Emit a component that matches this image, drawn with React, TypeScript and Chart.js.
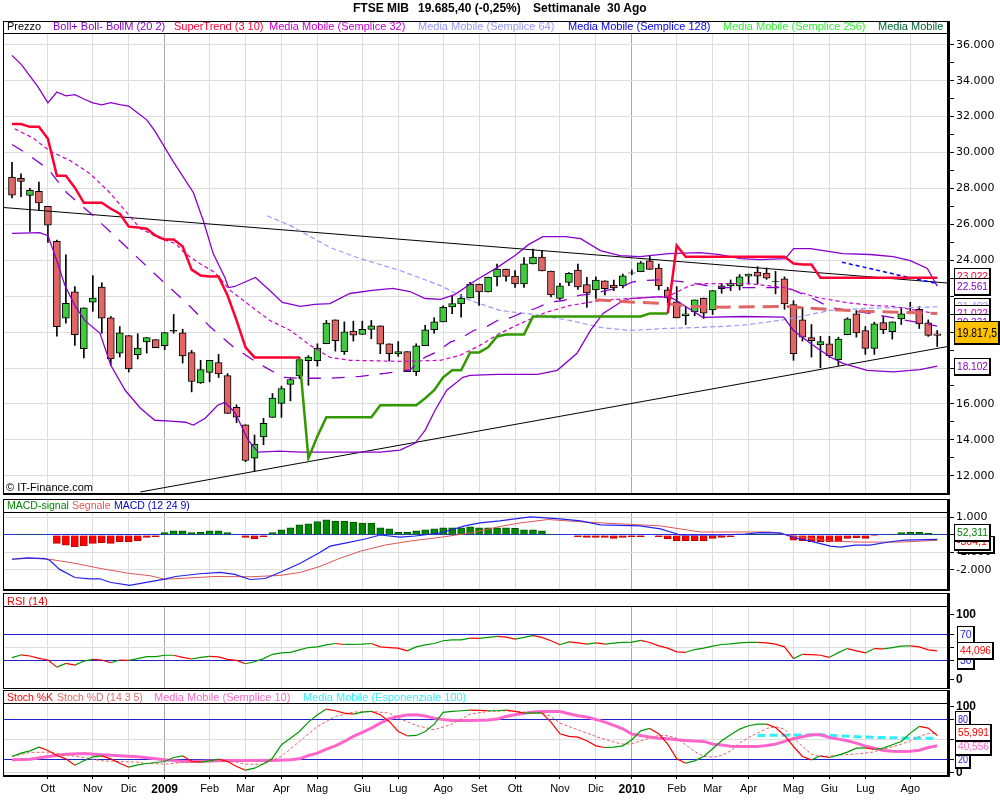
import React, { useEffect, useRef } from "react";
import { Chart, registerables } from "chart.js";

Chart.register(...registerables);

// ---------------- DATA ----------------
const monthTickIdx = [4, 9, 13, 17, 22, 26, 30, 34, 39, 43, 48, 52, 56, 61, 65, 69, 74, 78, 82, 87, 91, 95, 100];
const monthTickLabels = ["Ott", "Nov", "Dic", "2009", "Feb", "Mar", "Apr", "Mag", "Giu", "Lug", "Ago", "Set", "Ott", "Nov", "Dic", "2010", "Feb", "Mar", "Apr", "Mag", "Giu", "Lug", "Ago"];
const yearTickIdx = [17, 69];

const priceTicks = [12000, 13000, 14000, 15000, 16000, 17000, 18000, 19000, 20000, 21000, 22000, 23000, 24000, 25000, 26000, 27000, 28000, 29000, 30000, 31000, 32000, 33000, 34000, 35000, 36000];
const priceTicksHiddenByBoxes = [18000, 20000, 22000];
const macdTicks = [-2000, -1000, 0, 1000];
const rsiTicks = [0, 30, 50, 70, 100];
const stochTicks = [0, 20, 50, 80, 100];

const candleOpen = [
  28630, 28560, 27610, 27840, 27000, 25060, 20770, 22240, 19080, 21660,
  22510, 20800, 18830, 19800, 18740, 19460, 19580, 19240, 20100, 19960,
  18860, 17170, 17750, 18300, 17580, 15810, 14840, 12980, 14160, 15250,
  16030, 17080, 17560, 18410, 18410, 19350, 20680, 18910, 20050, 19870,
  20150, 20350, 19350, 18780, 18910, 17800, 19240, 20130, 20570, 21400,
  21570, 21900, 22680, 22240, 23070, 23510, 23120, 22680, 23790, 24180,
  23400, 21880, 22770, 23460, 22640, 22350, 22850, 22620, 22590, 23300,
  23360, 23970, 23570, 22350, 21680, 20920, 21130, 21900, 21240, 22420,
  22570, 22570, 23120, 23340, 23290, 22820, 22960, 21530, 20680, 19690,
  19280, 19350, 18470, 19850, 21020, 20090, 19090, 20530, 20020, 20740,
  21110, 21270, 20520, 19910,
];
const candleHigh = [
  29460, 28810, 28000, 28350, 27000, 25120, 24300, 22530, 21350, 23140,
  22750, 20870, 20310, 19800, 19910, 19690, 19580, 19980, 20980, 20160,
  18980, 18430, 18430, 18760, 17690, 15950, 14840, 14270, 15200, 16580,
  16990, 17450, 18610, 18690, 19350, 20650, 20680, 20570, 20610, 20610,
  20650, 20350, 19350, 19470, 18910, 19350, 20380, 20800, 21460, 22020,
  22090, 22770, 22680, 23070, 23790, 23510, 23420, 24150, 24620, 24530,
  23400, 22710, 23320, 23790, 23050, 23080, 22850, 22900, 23230, 23460,
  23930, 24250, 23790, 22490, 22530, 21380, 21790, 21900, 22310, 22710,
  22900, 23200, 23230, 23640, 23570, 23380, 23080, 21750, 21380, 20420,
  19760, 19760, 19720, 20800, 21200, 20310, 20550, 20870, 20570, 21350,
  21660, 21420, 20680, 20090,
];
const candleLow = [
  27470, 27540, 25600, 26780, 24990, 19780, 20500, 19260, 18560, 21160,
  19940, 18150, 18610, 17780, 18500, 18830, 19130, 19020, 19940, 18280,
  16670, 17140, 17230, 17470, 15470, 14950, 12790, 12240, 13730, 15250,
  15250, 16170, 17410, 17040, 18110, 19350, 18940, 18760, 19500, 19870,
  19630, 18800, 18390, 18650, 17800, 17580, 19240, 19940, 20570, 21020,
  20830, 21900, 21490, 22240, 22570, 22830, 22490, 22490, 23790, 23400,
  21960, 21810, 22590, 22380, 21380, 21830, 22070, 22310, 22460, 23200,
  23360, 23490, 22350, 21640, 20790, 20420, 20910, 20760, 20980, 22160,
  22310, 22350, 22680, 22680, 22940, 22130, 21270, 18430, 19500, 18610,
  18020, 18580, 18150, 19850, 19720, 18760, 18760, 19910, 19610, 20420,
  21020, 20200, 19760, 19200,
];
const candleClose = [
  27630, 28390, 27890, 27190, 25950, 20300, 21600, 19850, 21350, 21900,
  20770, 18500, 19960, 17950, 19110, 19690, 19130, 19980, 20050, 18680,
  17250, 17910, 18430, 17670, 15470, 15260, 12850, 13760, 14920, 16320,
  16860, 17360, 18470, 18610, 19110, 20500, 19520, 20020, 19830, 20150,
  20350, 19330, 18800, 18910, 17800, 19240, 20130, 20570, 21380, 21590,
  21900, 22680, 22240, 23070, 23510, 23100, 22680, 23800, 24180, 23400,
  22070, 22570, 23270, 22510, 22180, 22900, 22420, 22460, 23140, 23280,
  23860, 23490, 22570, 21910, 20790, 21020, 21790, 21050, 22310, 22570,
  22710, 23080, 23230, 23120, 23010, 22800, 21570, 18800, 19720, 19520,
  19470, 18690, 19610, 20740, 19960, 19090, 20460, 20130, 20570, 21020,
  21100, 20460, 19820, 19817.5,
];

type Pt = [number, number];

const bollUpper: Pt[] = [[0, 35410], [1.1, 34870], [2, 34260], [2.9, 33650], [4, 32760], [5, 33370], [6, 33150], [7, 33220], [8, 32980], [9, 32760], [10, 32650], [11, 32780], [12, 32670], [13, 32590], [14, 32200], [15, 31820], [15.9, 31200], [17.9, 29540], [20.2, 27760], [21.3, 26200], [22.4, 24370], [23.7, 23040], [24.1, 22480], [24.8, 22540], [27.1, 23040], [28.7, 22320], [30.1, 21650], [32.1, 21430], [33.7, 21540], [35.4, 21590], [37.6, 22150], [40.1, 22320], [42.4, 22430], [44.3, 22260], [46, 21870], [47.7, 21820], [49.3, 22090], [51.6, 22870], [54, 23590], [56, 24260], [57.5, 24870], [59.1, 25320], [61.6, 25320], [63.3, 25200], [65.5, 24540], [67.7, 24260], [69.9, 24200], [73.1, 24370], [76.6, 24430], [78.8, 24320], [81.1, 24090], [83.3, 24040], [86.1, 24090], [87, 24650], [88.9, 24650], [92.5, 24370], [95.5, 24320], [98.1, 24200], [100, 23980], [101.9, 23540], [103, 22561]];
const bollLower: Pt[] = [[0, 25500], [3.1, 25540], [4, 25370], [4.8, 24260], [5.9, 22590], [7, 21480], [8.1, 20650], [9.8, 19930], [11, 18150], [12.6, 16760], [14.3, 15760], [15.9, 15090], [17.6, 15040], [19.3, 14980], [20.2, 14820], [21.5, 15200], [22.9, 15930], [23.7, 16090], [24.8, 15540], [26.3, 13980], [27.4, 13320], [29.8, 13370], [32.1, 13320], [35.4, 13320], [41, 13320], [43.2, 13430], [44.9, 13820], [46, 14540], [47.1, 15650], [48.4, 16760], [50.2, 17480], [51, 17590], [54, 17650], [58.5, 17650], [60.7, 17870], [62.9, 18820], [64.4, 20090], [65.8, 21040], [67.7, 21650], [68.8, 21870], [72.2, 21980], [73.6, 21870], [76.9, 20820], [81.4, 20870], [85.9, 20830], [87, 20090], [88.9, 19370], [91.1, 18610], [92.5, 18260], [95.2, 17870], [98.1, 17780], [101.1, 17910], [103, 18102]];
const bollMid: Pt[] = [[0, 30450], [1.3, 30050], [4, 29090], [6.1, 27760], [8.8, 26590], [11.5, 25320], [14.1, 24090], [16.8, 22820], [19.5, 21590], [22, 20320], [24.7, 19150], [27.4, 18260], [30.2, 17480], [32.1, 17430], [35.4, 17430], [38.8, 17540], [41.5, 17700], [44.3, 17900], [46, 18610], [47.3, 18890], [48.8, 19440], [50.1, 19690], [51.4, 20090], [52.9, 20320], [54.2, 20690], [55.5, 20800], [56.9, 21110], [58.2, 21300], [59.9, 21670], [61.4, 21760], [63.1, 22040], [64.7, 22130], [66.2, 22320], [67.7, 22470], [69, 22780], [70.1, 22870], [72.2, 22910], [73.3, 22870], [75.5, 22760], [78.5, 22480], [82.2, 22480], [86.3, 22480], [88.9, 21930], [91.1, 21370], [95.5, 21040], [103, 20331]];
const sma32: Pt[] = [[0.3, 31320], [2.3, 30820], [4.2, 30090], [6.5, 29540], [8.7, 28820], [10.9, 27760], [12.6, 26760], [14.3, 25760], [16.5, 25210], [18.2, 24930], [19.3, 24370], [20.9, 23820], [22.6, 23320], [24.3, 22320], [26.5, 21480], [28.7, 20650], [31, 20090], [33.2, 19260], [35.4, 18590], [37.6, 18430], [43.2, 18370], [47.7, 18430], [49.9, 18710], [52.1, 19260], [54.3, 19930], [56.6, 20480], [59.4, 21090], [62.1, 21480], [65.5, 21760], [68.8, 21870], [73.1, 22000], [75.5, 22600], [77, 22700], [82, 22700], [86, 22480], [89.6, 21930], [92.8, 21650], [95.9, 21480], [98.1, 21430], [103, 21022]];
const sma64: Pt[] = [[28.4, 26480], [31, 25930], [35.4, 24710], [38.8, 24090], [43.2, 23430], [47.7, 22590], [51, 21760], [54.3, 21210], [58.8, 20930], [62.1, 20650], [65.5, 20260], [68.8, 20090], [73.1, 20210], [76.6, 20260], [81.1, 20370], [85.5, 20650], [87.8, 20870], [91.1, 21210], [95.5, 21330], [103, 21402]];
const sma128: Pt[] = [[92.4, 23890], [95.5, 23540], [98.9, 23150], [103, 22700]];
const ema100: Pt[] = [[64.9, 21800], [68.8, 21670], [72.2, 21610], [75.5, 21430], [79.6, 21390], [85.9, 21430], [91.1, 21260], [95.5, 21150], [100, 21090], [103, 21040]];
const superTrendRedA: number[] = [31590, 31590, 31430, 31430, 30760, 28700, 28700, 28040, 27200, 27200, 27200, 26870, 26590, 25870, 25820, 25760, 25370, 25150, 25150, 24760, 23480, 23150, 23090, 23090, 22040, 20650, 19150, 18590, 18590, 18590, 18590, 18590, 18590];
const superTrendGreenStart = 32;
const superTrendGreen: number[] = [18590, 12980, 14200, 15260, 15260, 15260, 15260, 15260, 15260, 15930, 15930, 15930, 15930, 15930, 16320, 16760, 17480, 17870, 17870, 18870, 18870, 19150, 19760, 19870, 19870, 19870, 20870, 20870, 20870, 20870, 20870, 20870, 20870, 20870, 20870, 20870, 20870, 20870, 20870, 21040, 21040, 21040];
const superTrendRedBStart = 73;
const superTrendRedB: number[] = [21040, 24820, 24200, 24200, 24200, 24200, 24200, 24200, 24200, 24200, 24200, 24200, 24200, 24200, 23820, 23760, 23760, 23022, 23022, 23022, 23022, 23022, 23022, 23022, 23022, 23022, 23022, 23022, 23022, 23022, 23022];
const trendDown: Pt[] = [[-1, 26940], [104.2, 22730]];
const trendUp: Pt[] = [[14.3, 11100], [104.2, 19200]];

const macdHist = [
  0, 58, 58, 58, 0, -482, -578, -674, -617, -482,
  -443, -482, -385, -385, -328, -135, -96, 135, 231, 231,
  135, 154, 231, 231, 135, 0, -135, -231, -96, 135,
  289, 405, 578, 636, 770, 867, 790, 790, 732, 674,
  674, 405, 347, 154, 154, 231, 289, 347, 405, 405,
  405, 462, 405, 405, 405, 405, 385, 289, 289, 231,
  58, 0, 0, -96, -135, -135, -135, -193, -135, -96,
  -96, 0, -96, -231, -328, -328, -328, -328, -193, -135,
  -96, 0, 58, 58, 58, 58, 0, -289, -328, -385,
  -385, -385, -385, -193, -154, -193, -58, 0, 58, 135,
  154, 154, 96, 52.311,
];
const macdLine: Pt[] = [[0, -1387], [1.7, -1312], [3.7, -1347], [4.2, -1445], [5.3, -1965], [7, -2428], [8.7, -2503], [9.8, -2503], [10.9, -2699], [13.1, -2873], [14.8, -2717], [17, -2526], [18.2, -2370], [20.9, -2214], [23.2, -2139], [24.8, -2254], [26.5, -2543], [28.2, -2486], [29.8, -2139], [32.1, -1618], [34.3, -983], [35.4, -636], [37.1, -462], [39.3, -231], [41, 0], [43.2, -116], [44.9, -58], [47.7, 116], [50.4, 520], [52.1, 694], [54.3, 809], [57.7, 1040], [59.4, 983], [61, 925], [63.3, 809], [65.5, 578], [69.9, 520], [72.2, 347], [74.4, 0], [78.8, 0], [81.6, 58], [83.3, 133], [85.5, 116], [87.2, -173], [88.9, -347], [91.1, -636], [92.2, -694], [93.9, -578], [95.5, -578], [97.8, -387], [99.4, -289], [103, -251.8]];
const macdSignal: Pt[] = [[0, -1387], [2, -1329], [4.2, -1387], [7, -1618], [9.8, -1907], [13.1, -2196], [15.4, -2329], [17, -2526], [18.7, -2486], [22.6, -2370], [26.5, -2387], [29.8, -2312], [32.1, -2139], [34.3, -1792], [36.5, -1329], [38.8, -925], [41.5, -578], [44.3, -347], [47.7, -133], [51, 116], [54.3, 480], [56.6, 694], [59.7, 884], [63.3, 751], [67.7, 636], [72.2, 520], [76.6, 173], [81.1, 173], [84.4, 173], [87.8, -116], [91.1, -347], [94.4, -405], [98.9, -405], [103, -304.1]];

const rsiValues = [
  33.6, 37.8, 36.2, 32.6, 30, 19.1, 24.8, 22.2, 28.4, 31,
  30, 25.8, 30, 29.5, 32.1, 35.2, 35.2, 37.3, 37.3, 34.2,
  31.6, 34.2, 35.7, 34.7, 31, 29.5, 24.3, 27.4, 32.1, 38.8,
  40.9, 41.9, 45.6, 49.2, 50.2, 53.4, 55.4, 53.9, 53.9, 54.4,
  55.4, 50.2, 49.2, 48.2, 44, 50.2, 53.4, 55.4, 59.6, 61.1,
  61.1, 63.7, 63.2, 64.8, 66.3, 65.3, 62.2, 64.8, 67.4, 64.8,
  59.6, 53.4, 58, 56.5, 54.4, 56.5, 54.4, 56, 57, 57.5,
  60.1, 57, 51.8, 48.2, 42.5, 41.9, 46.1, 48.2, 51.3, 53.9,
  54.9, 56.5, 57, 57, 56.5, 54.4, 50.2, 32.1, 38.8, 38.3,
  37.3, 34.2, 41.4, 47.6, 44, 40.9, 47.6, 47.1, 49.2, 51.3,
  51.8, 50.2, 45.6, 44.096,
];

const stochK = [
  24.1, 29.2, 32.7, 38.3, 33.2, 25.6, 20.5, 10.8, 17.5, 23.6,
  25.1, 20.5, 13.9, 7.8, 11.4, 13.4, 14.9, 16.4, 22.5, 25.1,
  16.4, 15.4, 17.5, 20, 16.4, 8.8, 3.2, 6.3, 12.9, 21.5,
  41.9, 52, 62.2, 76.4, 87.6, 96.3, 93.7, 90.2, 88.6, 91.7,
  92.7, 87.6, 77.5, 62.2, 55.6, 56.1, 62.2, 73.4, 91.2, 92.7,
  93.7, 94.8, 94.2, 93.7, 93.7, 94.8, 92.7, 90.2, 90.2, 90.2,
  76.4, 58.6, 54.6, 53.6, 48, 40.3, 37.8, 38.3, 40.3, 49.5,
  63.2, 66.8, 58.6, 42.9, 20.5, 13.9, 17.5, 24.1, 35.8, 48,
  57.1, 65.8, 70.9, 73.4, 73.4, 68.3, 56.1, 39.3, 24.1, 19,
  25.1, 22.5, 26.1, 30.7, 36.8, 37.3, 34.7, 36.8, 41.9, 47,
  59.7, 69.8, 67.3, 55.991,
];
const stochD: Pt[] = [[0, 24.1], [2, 30.2], [4, 30.7], [6, 26.6], [8, 22.5], [10, 17.5], [12, 16.4], [14, 15.4], [15, 13.4], [17, 12.4], [19, 14.9], [21, 16.4], [23, 17.5], [25, 15.4], [26, 12.4], [28, 12.4], [30, 24.1], [32, 47], [34, 69.8], [36, 85.1], [38, 91.7], [40, 92.7], [42, 90.2], [43, 82.5], [45, 71.4], [47, 64.7], [49, 73.4], [51, 88.6], [53, 92.7], [55, 93.7], [57, 91.7], [59, 90.2], [60, 85.1], [61, 74.9], [63, 64.7], [65, 54.6], [67, 45.9], [68, 42.9], [69, 43.4], [70, 48], [72, 56.1], [73, 55.6], [74, 52], [75, 41.9], [76, 31.7], [77, 24.1], [78, 23.1], [79, 25.6], [80, 32.7], [81, 44.4], [82, 53.1], [83, 59.7], [84, 66.8], [85, 69.3], [86, 65.8], [87, 52], [88, 39.3], [89, 27.6], [90, 24.1], [91, 24.6], [92, 26.1], [94, 28.1], [95, 29.2], [96, 31.2], [97, 35.3], [98, 38.8], [99, 42.9], [100, 48], [101, 54.6], [102, 59.2], [103, 59.7]];
const stochSma10: Pt[] = [[0, 19], [2, 20], [4, 24.1], [6, 27.6], [8, 28.6], [10, 26.6], [12, 25.1], [14, 23.6], [16, 20.5], [17, 19], [19, 16.4], [21, 16.9], [23, 17.5], [25, 18], [27, 18], [29, 18], [31, 19], [32, 20.5], [33, 25.6], [34, 29.2], [35, 35.3], [36, 40.3], [37, 47], [38, 54.6], [39, 60.7], [40, 67.3], [41, 74.9], [42, 81.5], [43, 85.1], [44, 87.1], [45, 87.6], [46, 85.6], [47, 82.5], [48, 80.5], [49, 79], [51, 79], [53, 79.5], [54, 81], [55, 85.1], [56, 87.6], [57, 89.7], [58, 91.7], [59, 92.7], [61, 92.7], [62, 89.2], [63, 86.1], [64, 84.1], [65, 80.5], [66, 76.4], [67, 71.4], [68, 66.3], [69, 58.1], [70, 56.1], [71, 53.6], [72, 52], [73, 51], [74, 49.5], [75, 48.5], [76, 47.5], [77, 47], [78, 42.9], [79, 41.4], [80, 39.8], [81, 39.3], [83, 39.3], [84, 40.8], [85, 42.9], [86, 47], [87, 51], [88, 54.1], [89, 57.1], [90, 57.1], [91, 53.1], [92, 50.5], [93, 48], [94, 44.4], [95, 39.8], [96, 36.8], [97, 33.2], [98, 32.2], [99, 31.7], [100, 32.2], [101, 33.7], [102, 37.8], [103, 40.556]];
const stochEma100: Pt[] = [[83, 56.1], [90, 57.1], [92, 55.6], [95, 53.6], [100, 52], [103, 52]];

// ---------------- HELPERS ----------------
const FONT = "'Liberation Sans', Arial, sans-serif";
const AXFONT = "'DejaVu Sans', Verdana, sans-serif";
const X_MIN = -1;
const X_MAX = 104.2;
const UP = "#3DCB3D";
const DOWN = "#E06666";
const PURPLE = "#8800CC";

const toXY = (pts: Pt[]) => pts.map(([x, y]) => ({ x, y }));
const seq = (start: number, vals: number[]) => vals.map((v, i) => ({ x: start + i, y: v }));
const lastOf = (pts: Pt[]) => pts[pts.length - 1][1];

function groupDigits(s: string) {
  return s.replace(/\B(?=(\d{3})+(?!\d))/g, ".");
}
function fmtNum(v: number, d: number) {
  const [i, f] = Math.abs(v).toFixed(d).split(".");
  return (v < 0 ? "-" : "") + groupDigits(i) + (f ? "," + f : "");
}

type Box = { v: number; text: string; color: string; fill?: string; x?: number; w?: number; h?: number; font?: string; dy?: number };

function panelPlugin(frameTop: number, boxes: Box[]) {
  return {
    id: "panel" + frameTop,
    afterDraw(chart: any) {
      const { ctx, chartArea: a } = chart;
      ctx.save();
      ctx.fillStyle = "#000";
      ctx.fillRect(3, frameTop, 946, 1);
      ctx.fillRect(3, frameTop, 1, a.bottom - frameTop);
      ctx.fillRect(3, a.top - 1, 946, 1);
      ctx.fillRect(3, a.bottom, 947, 2);
      ctx.fillRect(947, frameTop, 3, a.bottom - frameTop + 2);
      const ys = chart.scales.y;
      boxes.forEach((b) => {
        const cy = ys.getPixelForValue(b.v) + (b.dy || 0);
        const x = b.x ?? 954;
        const w = b.w ?? 36;
        const h = b.h ?? 17;
        const top = Math.round(cy - h / 2);
        ctx.fillStyle = b.fill ?? "#fff";
        ctx.fillRect(x, top, w, h);
        ctx.fillStyle = "#000";
        ctx.fillRect(x, top, w, 1);
        ctx.fillRect(x, top, 1, h);
        ctx.fillRect(x, top + h - 1, w + 1, 2);
        ctx.fillRect(x + w - 1, top, 2, h + 1);
        ctx.fillStyle = b.color;
        ctx.font = b.font ?? "10.5px " + FONT;
        ctx.textBaseline = "middle";
        ctx.textAlign = "left";
        ctx.fillText(b.text, x + 3, top + h / 2 + 0.5, w - 5);
      });
      ctx.restore();
    },
  };
}

function xAxis(withLabels: boolean): any {
  return {
    type: "linear",
    min: X_MIN,
    max: X_MAX,
    offset: false,
    afterBuildTicks: (s: any) => {
      s.ticks = monthTickIdx.map((v) => ({ value: v }));
    },
    afterFit: (s: any) => {
      s.height = withLabels ? 25 : 0;
      s.paddingLeft = 0;
      s.paddingRight = 0;
    },
    border: { display: false },
    grid: {
      color: (c: any) => (yearTickIdx.includes(c.tick?.value) ? "#A8A8A8" : "#DEDEDE"),
      lineWidth: 1,
      drawTicks: withLabels,
      tickLength: 4,
      tickColor: "#000",
      offset: false,
    },
    ticks: withLabels
      ? {
          display: true,
          autoSkip: false,
          maxRotation: 0,
          padding: 3,
          color: "#000",
          callback: (v: any) => monthTickLabels[monthTickIdx.indexOf(v)] ?? "",
          font: (c: any) =>
            yearTickIdx.includes(c.tick?.value)
              ? { family: FONT, size: 12, weight: "bold" }
              : { family: FONT, size: 11 },
        }
      : { display: false },
  };
}

function yAxis(min: number, max: number, tickVals: number[], label: (v: number) => string, gridColor: (v: number) => string, font: any): any {
  return {
    type: "linear",
    position: "right",
    min,
    max,
    beginAtZero: false,
    afterBuildTicks: (s: any) => {
      s.ticks = tickVals.map((v) => ({ value: v }));
    },
    afterFit: (s: any) => {
      s.width = 52;
      s.paddingTop = 0;
      s.paddingBottom = 0;
    },
    border: { display: false },
    grid: { color: (c: any) => gridColor(c.tick?.value), tickColor: "#000", tickLength: 6, drawTicks: true },
    ticks: { autoSkip: false, padding: 2, color: "#000", font, callback: (v: any) => label(v) },
  };
}

function baseOptions(padding: any, scales: any): any {
  return {
    responsive: false,
    maintainAspectRatio: false,
    animation: false,
    devicePixelRatio: 1,
    events: [],
    layout: { padding, autoPadding: false },
    plugins: { legend: { display: false }, tooltip: { enabled: false } },
    scales,
  };
}

function lineDs(data: any[], color: string, width: number, dash: number[], order: number): any {
  return {
    type: "line",
    data,
    borderColor: color,
    borderWidth: width,
    borderDash: dash,
    pointRadius: 0,
    fill: false,
    tension: 0,
    order,
    spanGaps: false,
  };
}

// ---------------- CHART CONFIGS ----------------
function mainConfig(): any {
  const idx = candleOpen.map((_, i) => i);
  const bodyColors = idx.map((i) =>
    Math.abs(candleClose[i] - candleOpen[i]) <= 60 ? "#000" : candleClose[i] > candleOpen[i] ? UP : DOWN
  );
  const superRed = [
    ...seq(0, superTrendRedA),
    { x: 50, y: null },
    ...seq(superTrendRedBStart, superTrendRedB),
  ];
  const datasets: any[] = [
    {
      type: "bar",
      data: idx.map((i) => ({ x: i, y: [candleLow[i], candleHigh[i]] })),
      backgroundColor: "#000",
      borderWidth: 0,
      barThickness: 1,
      grouped: false,
      order: 20,
    },
    {
      type: "bar",
      data: idx.map((i) => ({ x: i, y: [candleOpen[i], candleClose[i]] })),
      backgroundColor: bodyColors,
      borderColor: "#000",
      borderWidth: 1,
      borderSkipped: false,
      barThickness: 7,
      grouped: false,
      order: 19,
    },
    lineDs(toXY(trendDown), "#000", 1, [], 9),
    lineDs(toXY(trendUp), "#000", 1, [], 9),
    lineDs(toXY(sma64), "#9999FF", 1.2, [5, 3], 8),
    lineDs(toXY(bollUpper), PURPLE, 1.3, [], 7),
    lineDs(toXY(bollLower), PURPLE, 1.3, [], 7),
    lineDs(toXY(bollMid), PURPLE, 1.3, [13, 11], 7),
    lineDs(toXY(sma32), "#CC00CC", 1.2, [4, 3], 6),
    lineDs(toXY(sma128), "#0000FF", 1.5, [4, 3], 5),
    lineDs(toXY(ema100), "#E06666", 3, [16, 8], 4),
    lineDs(seq(superTrendGreenStart, superTrendGreen), "#339900", 2.5, [], 2),
    lineDs(superRed, "#FF0033", 2.5, [], 1),
  ];
  const stLast = superTrendRedB[superTrendRedB.length - 1];
  const closeLast = candleClose[candleClose.length - 1];
  const boxes: Box[] = [
    { v: stLast, text: fmtNum(stLast, 0), color: "#FF0033", dy: -1 },
    { v: lastOf(bollUpper), text: fmtNum(lastOf(bollUpper), 0), color: PURPLE },
    { v: lastOf(sma64), text: fmtNum(lastOf(sma64), 0), color: "#9999FF" },
    { v: lastOf(sma32), text: fmtNum(lastOf(sma32), 0), color: "#CC00CC" },
    { v: lastOf(bollMid), text: fmtNum(lastOf(bollMid), 0), color: PURPLE, dy: -4 },
    { v: closeLast, text: fmtNum(closeLast, 1), color: "#000", fill: "#FFC000", w: 45, h: 23, font: "13px " + FONT, dy: -3 },
    { v: lastOf(bollLower), text: fmtNum(lastOf(bollLower), 0), color: PURPLE },
  ];
  return {
    type: "bar",
    data: { datasets },
    options: baseOptions(
      { top: 34, left: 3, right: 0, bottom: 4 },
      {
        x: xAxis(false),
        y: yAxis(
          11040,
          36600,
          priceTicks,
          (v) => (v % 2000 === 0 && !priceTicksHiddenByBoxes.includes(v) ? fmtNum(v, 0) : ""),
          (v) => (v % 2000 === 0 ? "#DEDEDE" : "rgba(0,0,0,0)"),
          { family: AXFONT, size: 11 }
        ),
      }
    ),
    plugins: [panelPlugin(21, boxes)],
  };
}

function macdConfig(): any {
  const datasets: any[] = [
    {
      type: "bar",
      data: macdHist.map((v, i) => ({ x: i, y: v === 0 ? null : v })),
      backgroundColor: macdHist.map((v) => (v >= 0 ? "#008800" : "#FF0000")),
      borderColor: macdHist.map((v) => (v >= 0 ? "#005500" : "#BB0000")),
      borderWidth: 1,
      barThickness: 7,
      grouped: false,
      order: 10,
    },
    lineDs(toXY(macdSignal), "#E05555", 1, [], 2),
    lineDs(toXY(macdLine), "#2222EE", 1.2, [], 1),
  ];
  const hLast = macdHist[macdHist.length - 1];
  const boxes: Box[] = [
    { v: lastOf(macdLine), text: fmtNum(lastOf(macdLine), 1), color: "#0000FF", x: 958, dy: 5 },
    { v: lastOf(macdSignal), text: fmtNum(lastOf(macdSignal), 1), color: "#FF0000", dy: 1 },
    { v: hLast, text: fmtNum(hLast, 3), color: "#008000", dy: -2 },
  ];
  return {
    type: "bar",
    data: { datasets },
    options: baseOptions(
      { top: 16, left: 3, right: 0, bottom: 3 },
      {
        x: xAxis(false),
        y: yAxis(
          -3086,
          1257,
          macdTicks,
          (v) => fmtNum(v, 0),
          (v) => (v === 0 ? "#2233DD" : "#DEDEDE"),
          { family: AXFONT, size: 11 }
        ),
      }
    ),
    plugins: [panelPlugin(2, boxes)],
  };
}

function rsiConfig(): any {
  const data = rsiValues.map((v, i) => ({ x: i, y: v }));
  const ds: any = lineDs(data, "#009900", 1.2, [], 1);
  ds.segment = { borderColor: (c: any) => (c.p1.parsed.y >= c.p0.parsed.y ? "#009900" : "#FF0000") };
  const rLast = rsiValues[rsiValues.length - 1];
  const boxes: Box[] = [
    { v: 70, text: "70", color: "#2222DD", w: 17, x: 957 },
    { v: 30, text: "30", color: "#2222DD", w: 17, x: 957 },
    { v: rLast, text: fmtNum(rLast, 3), color: "#FF0000", x: 957 },
  ];
  return {
    type: "line",
    data: { datasets: [ds] },
    options: baseOptions(
      { top: 16, left: 3, right: 0, bottom: 1 },
      {
        x: xAxis(false),
        y: yAxis(
          -13,
          111.5,
          rsiTicks,
          (v) => (v === 100 ? "100" : v === 0 ? "0" : ""),
          (v) => (v === 30 || v === 70 ? "#2222CC" : v === 50 ? "#DEDEDE" : "rgba(0,0,0,0)"),
          { family: FONT, size: 12, weight: "bold" }
        ),
      }
    ),
    plugins: [panelPlugin(2, boxes)],
  };
}

function stochConfig(): any {
  const k: any = lineDs(stochK.map((v, i) => ({ x: i, y: v })), "#009900", 1.2, [], 2);
  k.segment = { borderColor: (c: any) => (c.p1.parsed.y >= c.p0.parsed.y ? "#009900" : "#FF0000") };
  const datasets: any[] = [
    lineDs(toXY(stochEma100), "#33EEFF", 3, [8, 4], 5),
    lineDs(toXY(stochSma10), "#FF66CC", 3, [], 4),
    lineDs(toXY(stochD), "#E06666", 1, [3, 2], 3),
    k,
  ];
  const kLast = stochK[stochK.length - 1];
  const sLast = lastOf(stochSma10);
  const boxes: Box[] = [
    { v: 80, text: "80", color: "#2222DD", w: 15, x: 955 },
    { v: 20, text: "20", color: "#2222DD", w: 15, x: 955 },
    { v: sLast, text: fmtNum(sLast, 3), color: "#FF66CC", x: 955, dy: 1 },
    { v: kLast, text: fmtNum(kLast, 3), color: "#FF0000", x: 955, dy: -3 },
  ];
  return {
    type: "line",
    data: { datasets },
    options: baseOptions(
      { top: 15, left: 3, right: 0, bottom: 0 },
      {
        x: xAxis(true),
        y: yAxis(
          -4.1,
          104,
          stochTicks,
          (v) => (v === 100 ? "100" : v === 0 ? "0" : ""),
          (v) => (v === 20 || v === 80 ? "#2222CC" : v === 50 || v === 0 ? "#DEDEDE" : "rgba(0,0,0,0)"),
          { family: FONT, size: 12, weight: "bold" }
        ),
      }
    ),
    plugins: [panelPlugin(1, boxes)],
  };
}

// ---------------- COMPONENT ----------------
const legendText: React.CSSProperties = {
  position: "absolute",
  fontFamily: FONT,
  fontSize: 11,
  lineHeight: "13px",
  whiteSpace: "pre",
};

function L({ x, y, c, t, s }: { x: number; y: number; c: string; t: string; s?: number }) {
  return <div style={{ ...legendText, left: x, top: y, color: c, fontSize: s ?? 11 }}>{t}</div>;
}

export default function App() {
  const mainRef = useRef<HTMLCanvasElement>(null);
  const macdRef = useRef<HTMLCanvasElement>(null);
  const rsiRef = useRef<HTMLCanvasElement>(null);
  const stochRef = useRef<HTMLCanvasElement>(null);

  useEffect(() => {
    const charts: Chart[] = [];
    charts.push(new Chart(mainRef.current as HTMLCanvasElement, mainConfig()));
    charts.push(new Chart(macdRef.current as HTMLCanvasElement, macdConfig()));
    charts.push(new Chart(rsiRef.current as HTMLCanvasElement, rsiConfig()));
    charts.push(new Chart(stochRef.current as HTMLCanvasElement, stochConfig()));
    return () => charts.forEach((c) => c.destroy());
  }, []);

  const cv = (top: number, h: number): React.CSSProperties => ({ position: "absolute", left: 0, top, width: 1000, height: h });

  return (
    <div style={{ position: "absolute", left: 0, top: 0, width: 1000, height: 800, background: "#fff", overflow: "hidden" }}>
      <canvas ref={mainRef} width={1000} height={497} style={cv(0, 497)} />
      <canvas ref={macdRef} width={1000} height={95} style={cv(497, 95)} />
      <canvas ref={rsiRef} width={1000} height={98} style={cv(591, 98)} />
      <canvas ref={stochRef} width={1000} height={111} style={cv(689, 111)} />

      <div style={{ ...legendText, left: 353, top: 1, fontSize: 12, lineHeight: "15px", fontWeight: "bold", color: "#000" }}>FTSE MIB</div>
      <div style={{ ...legendText, left: 418, top: 1, fontSize: 12, lineHeight: "15px", fontWeight: "bold", color: "#000" }}>19.685,40 (-0,25%)</div>
      <div style={{ ...legendText, left: 533, top: 1, fontSize: 12, lineHeight: "15px", fontWeight: "bold", color: "#000" }}>Settimanale  30 Ago</div>

      <div style={{ position: "absolute", left: 4, top: 21, width: 943, height: 12, overflow: "hidden" }}>
        <L x={3} y={-1} c="#000" t="Prezzo" />
        <L x={49} y={-1} c={PURPLE} t="Boll+ Boll- BollM (20 2)" />
        <L x={170} y={-1} c="#FF0033" t="SuperTrend (3 10)" />
        <L x={265} y={-1} c="#CC00CC" t="Media Mobile (Semplice 32)" />
        <L x={414} y={-1} c="#9999FF" t="Media Mobile (Semplice 64)" />
        <L x={564} y={-1} c="#0000EE" t="Media Mobile (Semplice 128)" />
        <L x={719} y={-1} c="#33EE33" t="Media Mobile (Semplice 256)" />
        <L x={874} y={-1} c="#006633" t="Media Mobile (Esponenziale 100)" />
      </div>
      <L x={6} y={481} c="#000" t="© IT-Finance.com" />

      <L x={7} y={499} c="#008800" t="MACD-signal" s={10.5} />
      <L x={72} y={499} c="#E05555" t="Segnale" s={10.5} />
      <L x={114} y={499} c="#0000CC" t="MACD (12 24 9)" s={10.5} />

      <L x={7} y={595} c="#FF0000" t="RSI (14)" />

      <L x={7} y={691} c="#FF0000" t="Stoch %K" s={10.5} />
      <L x={57} y={691} c="#E06666" t="Stoch %D (14 3 5)" s={10.5} />
      <L x={154} y={691} c="#FF66CC" t="Media Mobile (Semplice 10)" />
      <L x={303} y={691} c="#33EEFF" t="Media Mobile (Esponenziale 100)" />
    </div>
  );
}
